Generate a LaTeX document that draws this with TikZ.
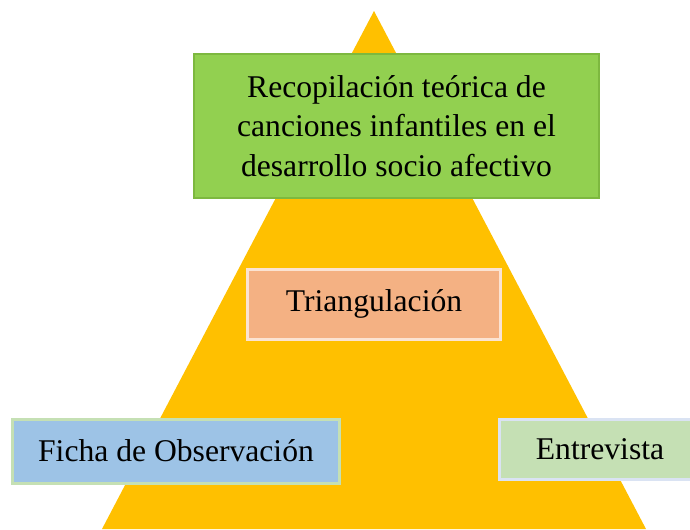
\documentclass[tikz,border=0pt]{standalone}
\usepackage{fontspec}
\setmainfont{Liberation Serif}
\usetikzlibrary{positioning}
\definecolor{pyramidcolor}{HTML}{FFC000}
\definecolor{theorycolor}{HTML}{92D050}
\definecolor{theoryline}{HTML}{7DB83F}
\definecolor{triancolor}{HTML}{F4B183}
\definecolor{trianline}{HTML}{FBE3D2}
\definecolor{fichacolor}{HTML}{9DC3E6}
\definecolor{fichaline}{HTML}{C5E0B4}
\definecolor{entrecolor}{HTML}{C5E0B4}
\definecolor{entreline}{HTML}{DAE3F3}
\newcommand{\boxfont}{\fontsize{18}{22.5}\selectfont}

\begin{document}
\begin{tikzpicture}[x=0.02cm,y=-0.02cm,
  block/.style={rectangle, align=center, font=\boxfont, inner sep=0pt, line width=0.6mm}]
\useasboundingbox (0,0) rectangle (690,529);
\coordinate (apex) at (374,11);
\coordinate (baseleft) at (102,529);
\coordinate (baseright) at (646,529);
\fill[pyramidcolor] (apex) -- (baseleft) -- (baseright) -- cycle;
\node[block, fill=theorycolor, draw=theoryline, line width=0.3mm, minimum width=8.1cm, minimum height=2.88cm] (theory) at (396.5,126) {Recopilación teórica de\\canciones infantiles en el\\desarrollo socio afectivo};
\node[block, fill=triancolor, draw=trianline, minimum width=5.08cm, minimum height=1.4cm] (trian) at (374,304) {Triangulación};
\node[block, fill=fichacolor, draw=fichaline, minimum width=6.56cm, minimum height=1.28cm] (ficha) at (176,451) {Ficha de Observación};
\node[block, fill=entrecolor, draw=entreline, minimum width=4.04cm, minimum height=1.2cm, text width=2.6cm] (entre) at (600,449) {Entrevista};
\end{tikzpicture}
\end{document}
